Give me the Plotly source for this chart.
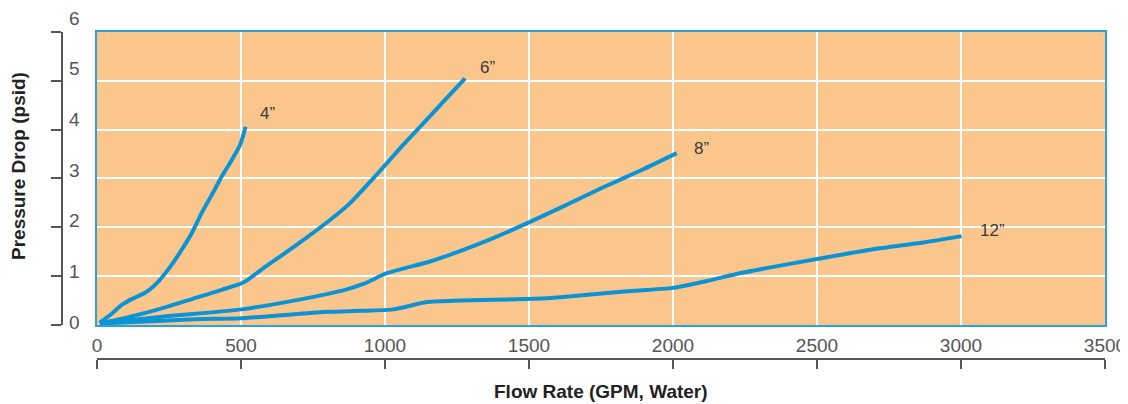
import plotly.graph_objects as go

# ---- data ----
x_4in = [10, 51, 86, 120, 167, 213, 259, 294, 329, 363, 398, 433, 468, 497, 516]
y_4in = [0.05, 0.23, 0.41, 0.53, 0.66, 0.89, 1.23, 1.54, 1.88, 2.29, 2.66, 3.04, 3.38, 3.69, 4.06]

x_6in = [10, 109, 225, 340, 433, 508, 577, 693, 809, 878, 948, 1006, 1063, 1133, 1202, 1278]
y_6in = [0.03, 0.16, 0.34, 0.55, 0.72, 0.87, 1.16, 1.64, 2.15, 2.49, 2.93, 3.31, 3.69, 4.13, 4.57, 5.05]

x_8in = [10, 225, 502, 693, 861, 925, 1006, 1156, 1272, 1376, 1492, 1619, 1758, 1897, 2013]
y_8in = [0.03, 0.17, 0.32, 0.51, 0.72, 0.84, 1.06, 1.30, 1.54, 1.78, 2.08, 2.43, 2.82, 3.19, 3.52]

x_12in = [10, 340, 500, 803, 913, 1029, 1145, 1260, 1492, 1608, 1724, 1840, 1999, 2117, 2232, 2348, 2499, 2695, 2869, 3002]
y_12in = [0.03, 0.12, 0.14, 0.27, 0.29, 0.32, 0.47, 0.50, 0.53, 0.57, 0.63, 0.69, 0.76, 0.90, 1.06, 1.19, 1.35, 1.55, 1.69, 1.82]

series = [
    ("4”", x_4in, y_4in),
    ("6”", x_6in, y_6in),
    ("8”", x_8in, y_8in),
    ("12”", x_12in, y_12in),
]
# label anchor positions (data units) for the series labels
label_x = [559, 1323, 2066, 3059]
label_y = [4.34, 5.28, 3.62, 1.93]

x_ticks = [0, 500, 1000, 1500, 2000, 2500, 3000, 3500]
y_ticks = [0, 1, 2, 3, 4, 5, 6]
x_range = [0, 3500]
y_range = [0, 6]

LINE = "#0b94d5"
BG = "#fbc68b"
AX = "#555555"
TXT = "#555555"
FONT = "Liberation Sans, Arial, sans-serif"

fig = go.Figure()
for name, xs, ys in series:
    fig.add_trace(go.Scatter(x=xs, y=ys, mode="lines", name=name,
                             line=dict(color=LINE, width=4, shape="spline", smoothing=0.6),
                             hoverinfo="skip", showlegend=False))

# helper traces so the auxiliary axes get drawn
fig.add_trace(go.Scatter(x=[], y=[], xaxis="x2", yaxis="y", showlegend=False))
fig.add_trace(go.Scatter(x=[], y=[], xaxis="x", yaxis="y2", showlegend=False))
fig.add_trace(go.Scatter(x=[], y=[], xaxis="x3", yaxis="y3", showlegend=False))

for (name, _, _), lx, ly in zip(series, label_x, label_y):
    fig.add_annotation(x=lx, y=ly, text=name, showarrow=False, xanchor="left",
                       yanchor="middle", font=dict(family=FONT, size=17, color="#3a3a3a"))

xdom = [0.05413, 0.97890]
ydom = [0.13388, 0.93443]

fig.update_layout(
    width=1120, height=396,
    margin=dict(l=30, r=0, t=0, b=30, autoexpand=False),
    paper_bgcolor="white",
    plot_bgcolor="rgba(0,0,0,0)",
    font=dict(family=FONT, color=TXT),
    xaxis=dict(domain=xdom, range=x_range, tickvals=x_ticks, showticklabels=True,
               tickfont=dict(family=FONT, size=19, color=TXT), ticklabelstandoff=2,
               ticklabeloverflow="allow",
               showgrid=True, gridcolor="white", gridwidth=1.6, zeroline=False,
               showline=True, linecolor="#2aa3dc", linewidth=1.5, mirror=True, ticks="",
               automargin=False),
    yaxis=dict(domain=ydom, range=y_range, tickvals=y_ticks, showticklabels=False,
               showgrid=True, gridcolor="white", gridwidth=1.6, zeroline=False,
               showline=True, linecolor="#2aa3dc", linewidth=1.5, mirror=True, ticks="",
               automargin=False),
    xaxis2=dict(overlaying="x", anchor="free", position=0.04098, range=x_range,
                tickvals=x_ticks, showgrid=False, zeroline=False, showline=True,
                linecolor=AX, linewidth=1.5, ticks="outside", ticklen=9, tickwidth=1.5,
                tickcolor=AX, showticklabels=False, automargin=False),
    yaxis2=dict(overlaying="y", anchor="free", position=0.02202, range=y_range,
                tickvals=y_ticks, showticklabels=False, showgrid=False, zeroline=False,
                showline=True, linecolor=AX, linewidth=1.5, ticks="outside", ticklen=10,
                tickwidth=1.5, tickcolor=AX, automargin=False),
    xaxis3=dict(domain=xdom, range=x_range, visible=False, anchor="y3"),
    yaxis3=dict(domain=[0.07104, 0.99454], anchor="free", position=0.02752, side="right",
                range=[-0.5131, 6.1575], tickvals=y_ticks, showgrid=False, zeroline=False,
                showline=False, ticks="", ticklabelposition="outside",
                ticklabeloverflow="allow",
                tickfont=dict(family=FONT, size=19, color=TXT), automargin=False),
    shapes=[
        dict(type="rect", xref="x domain", yref="y domain", x0=0, x1=1, y0=0, y1=1,
             fillcolor=BG, line=dict(width=0), layer="below"),
    ],
)

fig.add_annotation(text="<b>Flow Rate (GPM, Water)</b>", xref="paper", yref="paper",
                   x=0.51651, y=-0.04918, showarrow=False, xanchor="center", yanchor="middle",
                   font=dict(family=FONT, size=19, color="#222222"))
fig.add_annotation(text="<b>Pressure Drop (psid)</b>", xref="paper", yref="paper",
                   x=-0.01743, y=0.56831, showarrow=False, textangle=-90, xanchor="center",
                   yanchor="middle", font=dict(family=FONT, size=19, color="#222222"))

fig.write_html("out.html")
